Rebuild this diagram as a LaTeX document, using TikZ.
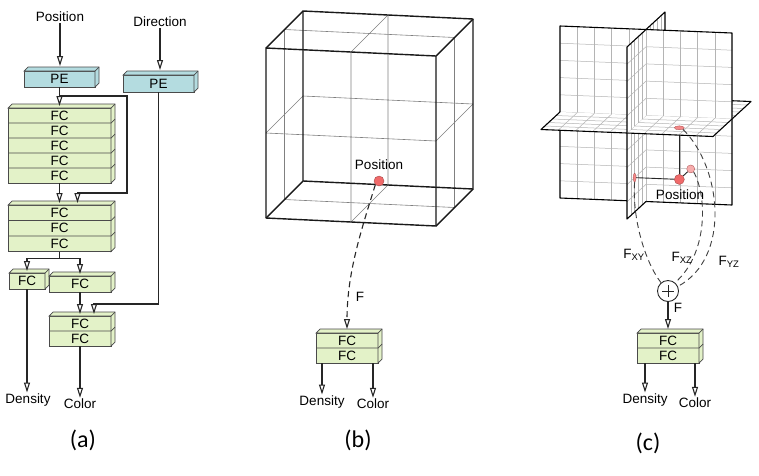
\documentclass[tikz,border=0pt]{standalone}
\usepackage{fontspec}
\setmainfont{Liberation Sans}
\newfontfamily\capfont{Carlito}
\usepackage{xcolor}
\usetikzlibrary{arrows.meta,calc,shapes.geometric}

\definecolor{peblue}{HTML}{B4DCE0}
\definecolor{fcgreen}{HTML}{E3F2C8}
\definecolor{boxline}{HTML}{4A4A4A}
\definecolor{dotred}{HTML}{F06A6A}
\definecolor{gridgray}{HTML}{B4B4B4}

% layered block: name, left, top, width, rows, row height, colour, text
\newcommand{\layerstack}[8]{%
  \node[layerbox, fill=#7, minimum width=#4pt, minimum height=#5*#6pt, anchor=north west] (#1) at (#2,#3) {};
  \filldraw[layerside, fill=#7] (#1.north west) -- ++(4,-4) -- ([shift={(4pt,4pt)}]#1.north east)
    -- ([shift={(4pt,4pt)}]#1.south east) -- (#1.south east) -- (#1.north east) -- cycle;
  \draw[layerside] (#1.north east) -- ++(4,-4);
  \pgfmathtruncatemacro\nrows{#5-1}
  \ifnum\nrows>0
    \foreach \rr in {1,...,\nrows} {
      \draw[layerside] ([yshift={-\rr*#6pt}]#1.north west) -- ([yshift={-\rr*#6pt}]#1.north east) -- ++(4,-4);
    }
  \fi
  \foreach \rr in {1,...,#5} {
    \node[layertext] at ([yshift={-(\rr-0.5)*#6pt}]#1.north) {#8};
  }
}

\begin{document}
\begin{tikzpicture}[x=1pt,y=-1pt,
  arr/.style={draw=black!85, line width=1.1pt, -{Triangle[open,length=10pt,width=6pt]}},
  link/.style={draw=black!85, line width=1.1pt},
  dashlink/.style={draw=black!75, line width=0.9pt, dash pattern=on 6pt off 4pt},
  layerbox/.style={draw=boxline, line width=0.7pt, inner sep=0pt, outer sep=0pt},
  layerside/.style={draw=boxline, line width=0.7pt},
  layertext/.style={font=\fontsize{13.5}{15}\selectfont, inner sep=0pt},
  lbl/.style={font=\fontsize{13.5}{16}\selectfont, inner sep=1pt},
  capt/.style={font=\capfont\fontsize{24}{28}\selectfont},
  cubeedge/.style={draw=black!90, line width=1.4pt, line join=round},
  cubegrid/.style={draw=black!50, line width=0.6pt},
  planeedge/.style={draw=black, line width=1.1pt, line join=round},
  planegrid/.style={draw=gridgray, line width=0.5pt},
  reddot/.style={circle, fill=dotred, draw=dotred!70!black, line width=0.4pt, minimum size=10pt, inner sep=0pt},
  ]
\fill[white] (0,0) rectangle (759,475);
\useasboundingbox (0,0) rectangle (759,475);

% ---------------- (a) ----------------
\node[lbl] (posA) at (60,17) {Position};
\node[lbl] (dirA) at (160,22) {Direction};
\layerstack{pe1}{24}{71}{71}{1}{16}{peblue}{PE}
\layerstack{pe2}{123}{75}{71}{1}{17}{peblue}{PE}
\layerstack{s1}{8}{108}{103}{5}{15}{fcgreen}{FC}
\layerstack{s2}{8}{205}{103}{3}{15.5}{fcgreen}{FC}
\layerstack{fcL}{9}{273}{36}{1}{16}{fcgreen}{FC}
\layerstack{fcR}{49}{276}{62}{1}{16}{fcgreen}{FC}
\layerstack{s3}{49}{316}{62}{2}{15}{fcgreen}{FC}
\node[lbl] (densA) at (28,400) {Density};
\node[lbl] (colA) at (80,404) {Color};
\node[capt] (capA) at (83,440) {(a)};

\draw[arr] (posA.south) -- ([yshift=5pt]posA.south |- pe1.north);
\draw[arr] (dirA.south) -- ([yshift=5pt]dirA.south |- pe2.north);
\draw[arr] (pe1.south) -- ([yshift=2pt]s1.north);
\coordinate (brA) at ($(pe1.south)+(0,9)$);
\coordinate (skipA) at (127,193);
\draw[arr] (brA) -| (skipA) -| ([xshift=18pt,yshift=2pt]s2.north);
\draw[arr] (s1.south) -- ([yshift=2pt]s2.north);
\coordinate (splitA) at ($(s2.south)+(0,7)$);
\draw[link] (s2.south) -- (splitA);
\draw[arr] (splitA) -| ([yshift=2pt]fcL.north);
\draw[arr] (splitA) -| ([yshift=2pt]fcR.north);
\draw[arr] (fcR.south) -- ([yshift=2pt]s3.north);
\draw[arr] (pe2.south) |- ([xshift=14pt,yshift=12pt]s3.north) -- ([xshift=14pt,yshift=2pt]s3.north);
\draw[arr] (fcL.south) -- (fcL.south |- densA.north);
\draw[arr] (s3.south) -- (s3.south |- colA.north);

% ---------------- (b) ----------------
\begin{scope}[shift={(266,218)}, x={(170pt,-8pt)}, y={(0pt,170pt)}, z={(37pt,37pt)}]
  % thin mid lines on every face
  \foreach \t in {0,1} {
    \draw[cubegrid] (0.5,0,\t) -- (0.5,1,\t) (0,0.5,\t) -- (1,0.5,\t);
    \draw[cubegrid] (\t,0,0.5) -- (\t,1,0.5) (\t,0.5,0) -- (\t,0.5,1);
    \draw[cubegrid] (0,\t,0.5) -- (1,\t,0.5) (0.5,\t,0) -- (0.5,\t,1);
  }
  \draw[cubeedge] (0,0,1) -- (1,0,1) -- (1,1,1) -- (0,1,1) -- cycle;
  \foreach \u/\v in {0/0,1/0,1/1,0/1} \draw[cubeedge] (\u,\v,0) -- (\u,\v,1);
  \draw[cubeedge] (0,0,0) -- (1,0,0) -- (1,1,0) -- (0,1,0) -- cycle;
\end{scope}
\node[reddot] (dotB) at (379,181) {};
\node[lbl] (posB) at (379,165) {Position};
\layerstack{fcB}{316}{333}{62}{2}{15}{fcgreen}{FC}
\node[lbl] (densB) at (322,402) {Density};
\node[lbl] (colB) at (373,404) {Color};
\node[capt] (capB) at (358,440) {(b)};
\draw[arr, dash pattern=on 6pt off 4pt] (dotB.south west) .. controls (362,228) and (347,272) .. ([yshift=4pt]fcB.north);
\node[lbl] (fB) at (360,297) {F};
\draw[arr] (fcB.south -| densB) -- (densB.north);
\draw[arr] (fcB.south -| colB) -- (colB.north);

% ---------------- (c) ----------------
\begin{scope}[shift={(541,215.5)}, x={(172pt,-7pt)}, y={(0pt,172pt)}, z={(38pt,35pt)}]
  % YZ plane, back half
  \fill[white] (0.5,0,0.5) -- (0.5,0,1) -- (0.5,1,1) -- (0.5,1,0.5) -- cycle;
  \foreach \i in {6,...,9} \draw[planegrid] (0.5,0,\i/10) -- (0.5,1,\i/10);
  \foreach \i in {1,...,9} \draw[planegrid] (0.5,\i/10,0.5) -- (0.5,\i/10,1);
  \draw[planeedge] (0.5,0,0.5) -- (0.5,0,1) -- (0.5,1,1) -- (0.5,1,0.5);
  % XZ plane, back half
  \fill[white] (0,0.5,0.5) -- (0,0.5,1) -- (1,0.5,1) -- (1,0.5,0.5) -- cycle;
  \foreach \i in {1,...,9} \draw[planegrid] (\i/10,0.5,0.5) -- (\i/10,0.5,1);
  \foreach \i in {6,...,9} \draw[planegrid] (0,0.5,\i/10) -- (1,0.5,\i/10);
  \draw[planeedge] (0,0.5,0.5) -- (0,0.5,1) -- (1,0.5,1) -- (1,0.5,0.5);
  % XY plane
  \fill[white] (0,0,0.5) -- (1,0,0.5) -- (1,1,0.5) -- (0,1,0.5) -- cycle;
  \foreach \i in {1,...,9} {
    \draw[planegrid] (\i/10,0,0.5) -- (\i/10,1,0.5);
    \draw[planegrid] (0,\i/10,0.5) -- (1,\i/10,0.5);
  }
  \draw[planeedge] (0,0,0.5) -- (1,0,0.5) -- (1,1,0.5) -- (0,1,0.5) -- cycle;
  \node[ellipse, fill=dotred!55, draw=dotred!70!black, line width=0.3pt, minimum width=8pt, minimum height=8pt, inner sep=0pt] (pXY) at (0.76,0.2,0.5) {};
  % YZ plane, front lower quarter
  \fill[white] (0.5,0,0) -- (0.5,0.5,0) -- (0.5,0.5,0.5) -- (0.5,0,0.5) -- cycle;
  \foreach \i in {1,...,4} {
    \draw[planegrid] (0.5,0,\i/10) -- (0.5,0.5,\i/10);
    \draw[planegrid] (0.5,\i/10,0) -- (0.5,\i/10,0.5);
  }
  \draw[planeedge] (0.5,0.5,0) -- (0.5,0,0) -- (0.5,0,0.5);
  \node[ellipse, fill=dotred!80, draw=dotred!70!black, line width=0.3pt, minimum width=3pt, minimum height=9pt, inner sep=0pt] (pYZ) at (0.5,0.2,0.2) {};
  \node[reddot] (dotC) at (0.76,0.2,0.2) {};
  \draw[draw=black!85, line width=0.9pt] (dotC) -- (pYZ);
  \draw[draw=black!85, line width=0.9pt] (dotC) -- (pXY);
  \draw[draw=black!85, line width=0.9pt] (dotC) -- (0.76,0.5,0.2);
  % XZ plane, front half
  \fill[white] (0,0.5,0) -- (1,0.5,0) -- (1,0.5,0.5) -- (0,0.5,0.5) -- cycle;
  \foreach \i in {1,...,9} \draw[planegrid] (\i/10,0.5,0) -- (\i/10,0.5,0.5);
  \foreach \i in {1,...,4} \draw[planegrid] (0,0.5,\i/10) -- (1,0.5,\i/10);
  \draw[planeedge] (0,0.5,0.5) -- (0,0.5,0) -- (1,0.5,0) -- (1,0.5,0.5);
  \node[ellipse, fill=dotred!80, draw=dotred!70!black, line width=0.3pt, minimum width=10pt, minimum height=4pt, inner sep=0pt] (pXZ) at (0.76,0.5,0.2) {};
  % YZ plane, front upper quarter
  \fill[white] (0.5,0.5,0) -- (0.5,1,0) -- (0.5,1,0.5) -- (0.5,0.5,0.5) -- cycle;
  \foreach \i in {1,...,4} \draw[planegrid] (0.5,0.5,\i/10) -- (0.5,1,\i/10);
  \foreach \i in {6,...,9} \draw[planegrid] (0.5,\i/10,0) -- (0.5,\i/10,0.5);
  \draw[planeedge] (0.5,0.5,0) -- (0.5,1,0) -- (0.5,1,0.5);
\end{scope}
\node[lbl] (posC) at (680,195) {Position};
\node[circle, draw=black!85, line width=0.9pt, minimum size=21pt, inner sep=0pt] (sumC) at (668,291) {};
\draw[draw=black!85, line width=0.8pt] ([xshift=-6pt]sumC.center) -- ([xshift=6pt]sumC.center)
  ([yshift=-6pt]sumC.center) -- ([yshift=6pt]sumC.center);
\draw[dashlink] (pYZ.south) .. controls (632,218) and (645,262) .. (sumC.130);
\draw[dashlink] (pXY.south east) .. controls (708,198) and (707,255) .. (sumC.50);
\draw[dashlink] (pXZ.south east) .. controls (722,168) and (731,258) .. (sumC.25);
\node[lbl] (fXY) at (634,255) {F\textsubscript{XY}};
\node[lbl] (fXZ) at (682,258) {F\textsubscript{XZ}};
\node[lbl] (fYZ) at (729,262) {F\textsubscript{YZ}};
\node[lbl] (fC) at (678,308) {F};
\layerstack{fcC}{637}{333}{62}{2}{15}{fcgreen}{FC}
\draw[arr] (sumC.south) -- ([yshift=4pt]fcC.north);
\node[lbl] (densC) at (645,400) {Density};
\node[lbl] (colC) at (695,403) {Color};
\node[capt] (capC) at (648,443) {(c)};
\draw[arr] (fcC.south -| densC) -- (densC.north);
\draw[arr] (fcC.south -| colC) -- (colC.north);
\end{tikzpicture}
\end{document}
